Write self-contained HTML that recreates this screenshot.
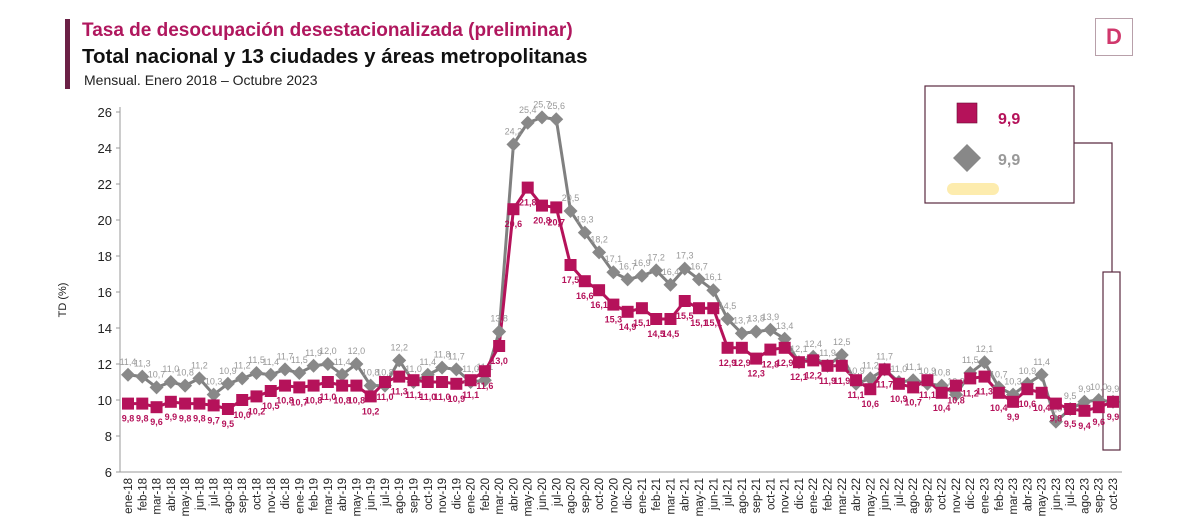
<!DOCTYPE html>
<html><head><meta charset="utf-8">
<style>
body{margin:0;width:1200px;height:519px;overflow:hidden;background:#fff;font-family:"Liberation Sans",sans-serif;position:relative}
.t{position:absolute;white-space:nowrap}
</style></head><body>
<div style="position:absolute;left:65px;top:19px;width:5px;height:70px;background:#6b2146"></div>
<div class="t" style="left:82px;top:20px;font-size:19px;font-weight:bold;color:#b0175e">Tasa de desocupación desestacionalizada (preliminar)</div>
<div class="t" style="left:82px;top:45px;font-size:20.5px;font-weight:bold;color:#111">Total nacional y 13 ciudades y áreas metropolitanas</div>
<div class="t" style="left:84px;top:72px;font-size:14px;color:#222">Mensual. Enero 2018 – Octubre 2023</div>
<div style="position:absolute;left:1095px;top:18px;width:38px;height:38px;border:1px solid #b8a0aa;box-sizing:border-box;color:#d0386c;font-weight:bold;font-size:22px;text-align:center;line-height:36px">D</div>
<svg id="ch" width="1200" height="519" style="position:absolute;left:0;top:0" xmlns="http://www.w3.org/2000/svg">
<g>
<rect x="925" y="86" width="149" height="117" fill="#fff" stroke="#5a2a40" stroke-width="1.2"/>
<rect x="957" y="103" width="20" height="20" fill="#b5125a" stroke="#6b0a35" stroke-width="0.6"/>
<text x="998" y="124" font-size="16" font-weight="bold" fill="#b5125a" font-family="Liberation Sans">9,9</text>
<polygon points="967,144 981,158 967,172 953,158" fill="#888"/>
<text x="998" y="165" font-size="16" font-weight="bold" fill="#999" font-family="Liberation Sans">9,9</text>
<rect x="947" y="183" width="52" height="12" rx="6" fill="#fde79a" opacity="0.8"/>
</g>
<polyline points="1074,143 1112,143 1112,272" fill="none" stroke="#5a2a40" stroke-width="1.2"/>
<rect x="1103" y="272" width="17" height="178" fill="none" stroke="#5a2a40" stroke-width="1.2"/>
<text transform="translate(66,300) rotate(-90)" font-size="11" text-anchor="middle" fill="#222" font-family="Liberation Sans">TD (%)</text>
<g id="axes"></g><g id="marks"></g>
</svg>
<script>
const months=["ene","feb","mar","abr","may","jun","jul","ago","sep","oct","nov","dic"];
const years=["18","19","20","21","22","23"];
const nacional=[9.8,9.8,9.6,9.9,9.8,9.8,9.7,9.5,10.0,10.2,10.5,10.8,
10.7,10.8,11.0,10.8,10.8,10.2,11.0,11.3,11.1,11.0,11.0,10.9,
11.1,11.6,13.0,20.6,21.8,20.8,20.7,17.5,16.6,16.1,15.3,14.9,
15.1,14.5,14.5,15.5,15.1,15.1,12.9,12.9,12.3,12.8,12.9,12.1,
12.2,11.9,11.9,11.1,10.6,11.7,10.9,10.7,11.1,10.4,10.8,11.2,
11.3,10.4,9.9,10.6,10.4,9.8,9.5,9.4,9.6,9.9];
const ciudades=[11.4,11.3,10.7,11.0,10.8,11.2,10.3,10.9,11.2,11.5,11.4,11.7,
11.5,11.9,12.0,11.4,12.0,10.8,10.8,12.2,11.0,11.4,11.8,11.7,
11.0,11.1,13.8,24.2,25.4,25.7,25.6,20.5,19.3,18.2,17.1,16.7,
16.9,17.2,16.4,17.3,16.7,16.1,14.5,13.7,13.8,13.9,13.4,12.1,
12.4,11.9,12.5,10.9,11.2,11.7,11.0,11.1,10.9,10.8,10.3,11.5,
12.1,10.7,10.3,10.9,11.4,8.8,9.5,9.9,10.0,9.9];
const yTicks=[6,8,10,12,14,16,18,20,22,24,26];
const cats=[];years.forEach(y=>months.forEach(m=>cats.push(m+"-"+y)));
const N=nacional.length;
const X0=128,X1=1113,Y0=472,Y1=112;
const x=i=>X0+i*(X1-X0)/(N-1);
const y=v=>Y0-(v-6)*(Y0-Y1)/20;
const NS="http://www.w3.org/2000/svg";
const ax=document.getElementById('axes'),mk=document.getElementById('marks');
function el(t,a,p){const e=document.createElementNS(NS,t);for(const k in a)e.setAttribute(k,a[k]);p.appendChild(e);return e;}
const yl=el('line',{x1:120,y1:Y1-5,x2:120,y2:Y0,stroke:'#999'},ax);


const xl=el('line',{x1:120,y1:Y0,x2:1122,y2:Y0,stroke:'#999'},ax);


yTicks.forEach(v=>{
 const t=el('text',{x:112,y:y(v)+5,'font-size':13,'text-anchor':'end',fill:'#222','font-family':'Liberation Sans'},ax);t.textContent=v;
 
 
 el('line',{x1:116,y1:y(v),x2:120,y2:y(v),stroke:'#999'},ax);
});
for(let i=0;i<N;i++){
 const t=el('text',{transform:`translate(${x(i)+4},${Y0+6}) rotate(-90)`,'font-size':11.5,'text-anchor':'end',fill:'#222','font-family':'Liberation Sans'},ax);
 t.textContent=cats[i];
 
 
}
function fmt(v){return v.toFixed(1).replace('.',',');}
const gl=el('polyline',{points:ciudades.map((v,i)=>x(i)+','+y(v)).join(' '),fill:'none',stroke:'#808080','stroke-width':3},mk);


const rl=el('polyline',{points:nacional.map((v,i)=>x(i)+','+y(v)).join(' '),fill:'none',stroke:'#b5125a','stroke-width':3},mk);


ciudades.forEach((v,i)=>{
 const cx=x(i),cy=y(v);
 const d=el('polygon',{points:`${cx},${cy-7} ${cx+7},${cy} ${cx},${cy+7} ${cx-7},${cy}`,fill:'#888'},mk);
 
 
 const t=el('text',{x:cx,y:cy-10,'font-size':9,'text-anchor':'middle',fill:'#999','font-family':'Liberation Sans'},mk);t.textContent=fmt(v);
 
 
});
nacional.forEach((v,i)=>{
 const cx=x(i),cy=y(v);
 const r=el('rect',{x:cx-6,y:cy-6,width:12,height:12,fill:'#b5125a'},mk);
 
 
 const t=el('text',{x:cx,y:cy+18,'font-size':9,'font-weight':'bold','text-anchor':'middle',fill:'#b5125a','font-family':'Liberation Sans'},mk);t.textContent=fmt(v);
 
 
});
</script>
</body></html>
